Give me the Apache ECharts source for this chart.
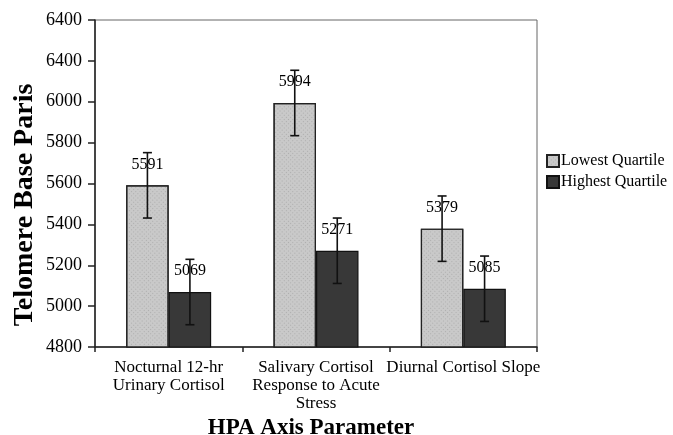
<!DOCTYPE html>
<html>
<head>
<meta charset="utf-8">
<script src="https://cdn.jsdelivr.net/npm/echarts@6/dist/echarts.min.js"></script>
<style>html,body{margin:0;padding:0;background:#fff}#c{width:673px;height:435px}</style>
</head>
<body>
<div id="c"></div>
<script>
var categories = ["Nocturnal 12-hr\nUrinary Cortisol", "Salivary Cortisol\nResponse to Acute\nStress", "Diurnal Cortisol Slope"];
var lowestValues = [5591, 5994, 5379];
var highestValues = [5069, 5271, 5085];
var lowestErrors = [160, 160, 160];
var highestErrors = [160, 160, 160];
var yTickLabels = ["4800", "5000", "5200", "5400", "5600", "5800", "6000", "6400", "6400"];
var seriesNames = ["Lowest Quartile", "Highest Quartile"];
var yTitle = "Telomere Base Paris";
var xTitle = "HPA Axis Parameter";

var FONT = '"Liberation Serif", "DejaVu Serif", serif';
var chart = echarts.init(document.getElementById('c'), null, {renderer: 'canvas'});

var BAR_W = 42.5;

function errSeries(values, errors, offsetSign) {
  return {
    type: 'custom',
    z: 5,
    silent: true,
    data: values.map(function (v, i) { return [i, v - errors[i], v + errors[i]]; }),
    renderItem: function (params, api) {
      var lo = api.coord([api.value(0), api.value(1)]);
      var hi = api.coord([api.value(0), api.value(2)]);
      var x = lo[0] + offsetSign * BAR_W / 2;
      var cap = 4.5;
      var style = {stroke: '#111', lineWidth: 1.6, fill: null};
      return {
        type: 'group',
        children: [
          {type: 'line', shape: {x1: x, y1: hi[1], x2: x, y2: lo[1]}, style: style},
          {type: 'line', shape: {x1: x - cap, y1: hi[1], x2: x + cap, y2: hi[1]}, style: style},
          {type: 'line', shape: {x1: x - cap, y1: lo[1], x2: x + cap, y2: lo[1]}, style: style}
        ]
      };
    }
  };
}

var option = {
  animation: false,
  textStyle: {fontFamily: FONT},
  grid: {left: 95, right: 136, top: 20, bottom: 88, show: true, borderColor: '#666', borderWidth: 1},
  legend: {
    orient: 'vertical', left: 541, top: 148,
    itemWidth: 12, itemHeight: 12, itemGap: 5,
    textStyle: {fontFamily: FONT, fontSize: 16, color: '#000', padding: [0, 0, 0, -3]},
    data: seriesNames.map(function (n) { return {name: n, icon: 'rect'}; })
  },
  xAxis: {
    type: 'category',
    data: categories,
    axisLine: {lineStyle: {color: '#222', width: 1.5}},
    axisTick: {show: true, length: 5, lineStyle: {color: '#222', width: 1.5}},
    axisLabel: {interval: 0, color: '#000', fontFamily: FONT, fontSize: 17, lineHeight: 18, margin: 12}
  },
  yAxis: {
    type: 'value', min: 4800, max: 6400, interval: 200,
    axisLine: {show: true, lineStyle: {color: '#222', width: 1.5}},
    axisTick: {show: true, length: 7, lineStyle: {color: '#222', width: 1.5}},
    splitLine: {show: false},
    axisLabel: {
      color: '#000', fontFamily: FONT, fontSize: 18, margin: 13,
      formatter: function (v) { return yTickLabels[Math.round((v - 4800) / 200)]; }
    }
  },
  graphic: [
    {type: 'text', x: 25, y: 205, rotation: Math.PI / 2,
     style: {text: yTitle, font: 'bold 28px ' + FONT, fill: '#000', align: 'center', verticalAlign: 'middle'}},
    {type: 'text', x: 311, y: 428,
     style: {text: xTitle, font: 'bold 23px ' + FONT, fill: '#000', align: 'center', verticalAlign: 'middle'}}
  ],
  series: [
    {
      name: seriesNames[0], type: 'bar', data: lowestValues, barWidth: BAR_W, barGap: '0%',
      itemStyle: {
        color: '#c9c9c9', borderColor: '#222', borderWidth: 1.2,
        decal: {symbol: 'rect', symbolSize: 1, dashArrayX: [1, 2], dashArrayY: [1, 2], rotation: Math.PI / 4, color: 'rgba(140,140,140,0.45)'}
      },
      label: {show: true, position: 'top', distance: 13, color: '#000', fontFamily: FONT, fontSize: 16}
    },
    {
      name: seriesNames[1], type: 'bar', data: highestValues, barWidth: BAR_W, barGap: '0%',
      itemStyle: {color: '#383838', borderColor: '#111', borderWidth: 1.2},
      label: {show: true, position: 'top', distance: 13, color: '#000', fontFamily: FONT, fontSize: 16}
    },
    errSeries(lowestValues, lowestErrors, -1),
    errSeries(highestValues, highestErrors, 1)
  ]
};
chart.setOption(option);
</script>
</body>
</html>
